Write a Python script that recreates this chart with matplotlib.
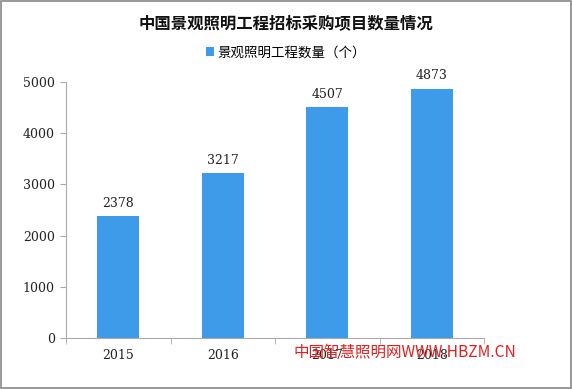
import matplotlib
matplotlib.use("Agg")
import matplotlib.pyplot as plt
from matplotlib.patches import Rectangle

plt.rcParams['font.family'] = ['Noto Sans CJK SC', 'DejaVu Sans']

years = ['2015', '2016', '2017', '2018']
counts = [2378, 3217, 4507, 4873]
title = '中国景观照明工程招标采购项目数量情况'
legend_label = '景观照明工程数量（个）'
bar_color = '#3d9be9'

fig = plt.figure(figsize=(5.72, 3.89), dpi=100)
fig.patch.set_facecolor('white')
fig.patches.append(Rectangle((0.002, 0.002), 0.996, 0.996, transform=fig.transFigure,
                             fill=False, edgecolor='#888888', linewidth=1.2))
ax = fig.add_axes([0.1154, 0.1311, 0.7308, 0.658])

x = range(len(years))
bars = ax.bar(x, counts, width=0.4, color=bar_color, label=legend_label)
for xi, v in zip(x, counts):
    ax.text(xi, v + 120, str(v), ha='center', va='bottom', fontsize=9, color='#222222',
            family=['DejaVu Serif'])

ax.set_xlim(-0.5, 3.5)
ax.set_ylim(0, 5000)
ax.set_yticks([0, 1000, 2000, 3000, 4000, 5000])
ax.set_xticks(list(x))
ax.set_xticklabels(years)
ax.set_xticks([-0.5, 0.5, 1.5, 2.5, 3.5], minor=True)
ax.tick_params(axis='x', which='major', length=0, pad=8, labelsize=9)
ax.tick_params(axis='x', which='minor', length=4, color='#aaaaaa')
ax.tick_params(axis='y', length=4, color='#aaaaaa', labelsize=9, pad=4)
for lbl in ax.get_xticklabels() + ax.get_yticklabels():
    lbl.set_fontfamily(['DejaVu Serif'])
    lbl.set_color('#222222')
for s in ['top', 'right']:
    ax.spines[s].set_visible(False)
for s in ['left', 'bottom']:
    ax.spines[s].set_color('#aaaaaa')

fig.text(0.5, 0.94, title, ha='center', va='center', fontsize=11.8, fontweight='bold', color='#111111')
leg = fig.legend(handles=[bars], labels=[legend_label], loc='center', bbox_to_anchor=(0.5, 0.865),
                 frameon=False, fontsize=9.7, handlelength=0.6, handleheight=0.6, handletextpad=0.3)

fig.text(0.902, 0.092, '中国智慧照明网WWW.HBZM.CN', ha='right', va='center', fontsize=11.2,
         color='#e02020')

fig.savefig('out.png', dpi=100)
